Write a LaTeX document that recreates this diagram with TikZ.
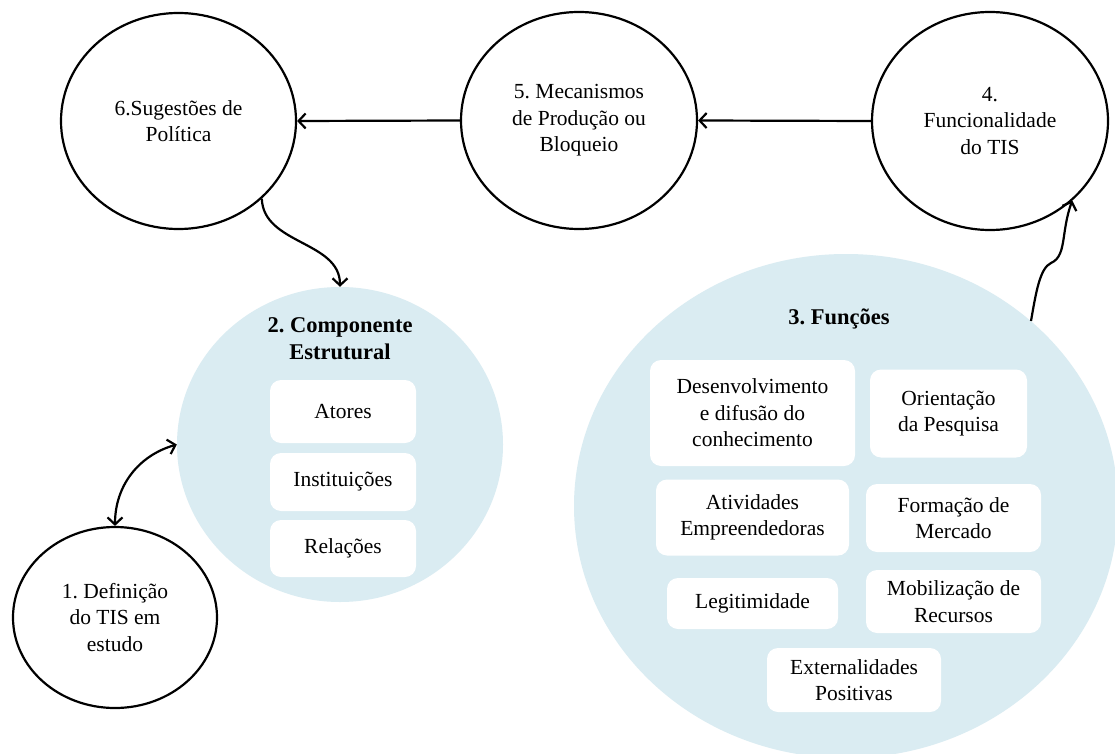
\documentclass[tikz,border=0pt]{standalone}
\usepackage{fontspec}
\setmainfont{Liberation Serif}
\usetikzlibrary{shapes.geometric,arrows.meta}
\definecolor{paleblue}{RGB}{218,236,242}
\newcommand\bodytxt{\fontsize{21.5}{26.5}\selectfont\frenchspacing}
\newcommand\headtxt{\fontsize{22.5}{27}\selectfont\bfseries\frenchspacing}
\begin{document}
\begin{tikzpicture}[x=1pt,y=1pt,
  ring/.style={ellipse, draw, line width=2.2pt, inner sep=0pt, align=center, font=\bodytxt},
  disc/.style={ellipse, fill=paleblue, inner sep=0pt},
  card/.style={rounded corners=11pt, fill=white, inner sep=0pt, align=center, font=\bodytxt},
  heading/.style={align=center, font=\headtxt},
  arr/.style={line width=2.2pt, -{Straight Barb[length=7pt,width=15pt]}},
  biarr/.style={line width=2.2pt, {Straight Barb[length=7pt,width=15pt]}-{Straight Barb[length=7pt,width=15pt]}},
]
\useasboundingbox (0,0) rectangle (1115,-754);
\fill[white] (0,0) rectangle (1115,-754);
\clip (0,0) rectangle (1115,-754);

% blue groups
\node[disc, minimum width=326pt, minimum height=315pt] (c2) at (340,-444.5) {};
\node[disc, minimum width=544pt, minimum height=504pt] (c3) at (846,-506) {};

% structural component
\node[heading] (h2) at (340,-338.5) {2. Componente\\Estrutural};
\node[card, minimum width=146pt, minimum height=63pt] (atores) at (343,-411.5) {Atores};
\node[card, minimum width=146pt, minimum height=58pt] (inst) at (343,-482) {Instituições};
\node[card, minimum width=146pt, minimum height=57pt] (rel) at (343,-548.5) {Relações};

% functions
\node[heading] (h3) at (839,-319) {3. Funções};
\node[card, minimum width=205pt, minimum height=106pt] (f1) at (752.5,-413) {Desenvolvimento\\e difusão do\\conhecimento};
\node[card, minimum width=157pt, minimum height=88pt] (f2) at (948.5,-413.5) {Orientação\\da Pesquisa};
\node[card, minimum width=193pt, minimum height=76pt] (f3) at (752.5,-517.5) {Atividades\\Empreendedoras};
\node[card, minimum width=175pt, minimum height=68pt] (f4) at (953.5,-518) {Formação de\\Mercado};
\node[card, minimum width=171pt, minimum height=51pt] (f5) at (752.5,-603.5) {Legitimidade};
\node[card, minimum width=175pt, minimum height=63pt] (f6) at (953.5,-601.5) {Mobilização de\\Recursos};
\node[card, minimum width=174pt, minimum height=64pt] (f7) at (854,-680) {Externalidades\\Positivas};

% outlined stages
\node[ring, minimum width=235pt, minimum height=216pt] (c6) at (178.5,-121) {6.Sugestões de\\Política};
\node[ring, minimum width=236pt, minimum height=217pt] (c5) at (579,-120.5) {5. Mecanismos\\de Produção ou\\Bloqueio};
\node[ring, minimum width=236pt, minimum height=218pt] (c4) at (990,-121) {4.\\Funcionalidade\\do TIS};
\node[ring, minimum width=204pt, minimum height=181pt] (c1) at (115,-617.5) {1. Definição\\do TIS em\\estudo};

% connectors
\draw[arr] (c4.west) -- (c5.east);
\draw[arr] (c5.west) -- (c6.east);
\draw[arr] (c6.-43) to[out=-88, in=90] (c2.north);
\draw[biarr] (c1.north) to[out=90, in=196] (c2.west);
\draw[arr] (c3.45) .. controls (1036,-292) and (1040,-268) .. (1051,-263)
  .. controls (1060,-259) and (1062,-250) .. (1064,-236)
  .. controls (1066,-222) and (1068,-212) .. (c4.-44);
\end{tikzpicture}
\end{document}
